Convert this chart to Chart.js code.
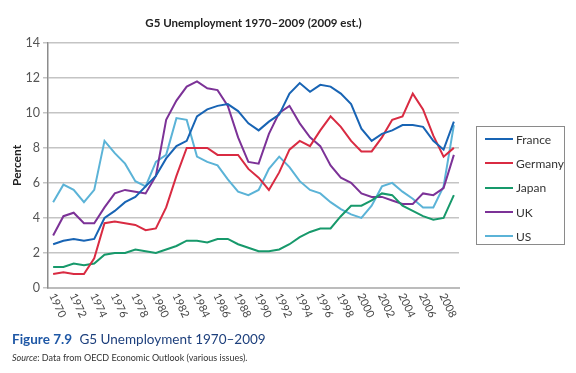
<!DOCTYPE html>
<html>
<head>
<meta charset="utf-8">
<script src="https://cdn.jsdelivr.net/npm/chart.js"></script>
<style>
    body { margin: 0; background: #fff; }
    #wrap { position: relative; width: 576px; height: 373px; font-family: Lato, "Open Sans", sans-serif; }
    #chart { position: absolute; left: 0; top: 0; }
    #legend {
        position: absolute; left: 476px; top: 126px; width: 89px; height: 119px;
        border: 1px solid #8a8a8a; box-sizing: border-box; padding-top: 0px;
    }
    .item { height: 24.3px; display: flex; align-items: center; font-size: 12px; color: #333; }
    .item span { display: inline-block; width: 28px; height: 2px; margin: 0 3px 0 8px; }
    #caption { position: absolute; left: 12px; top: 331px; font-size: 13.5px; color: #1d3f7c; }
    #caption b { color: #1f58a6; font-weight: 700; margin-right: 4px; }
    #source { position: absolute; left: 12px; top: 352px; font-size: 9px; color: #333; }
</style>
</head>
<body>
<div id="wrap">
    <canvas id="chart" width="576" height="373"></canvas>
    <div id="legend"></div>
    <div id="caption"><b>Figure 7.9</b> G5 Unemployment 1970–2009</div>
    <div id="source"><i>Source</i>: Data from OECD Economic Outlook (various issues).</div>
</div>
<script>
// Datos: desempleo (%) 1970-2009
const years = [];
for (let y = 1970; y <= 2009; y++) years.push(String(y));

const seriesNames = ['France', 'Germany', 'Japan', 'UK', 'US'];
const seriesColors = ['#1864b4', '#d92b42', '#17996b', '#7c3297', '#5bb3d7'];

const france = [2.5, 2.7, 2.8, 2.7, 2.8, 4.0, 4.4, 4.9, 5.2, 5.8,
                6.4, 7.4, 8.1, 8.4, 9.8, 10.2, 10.4, 10.5, 10.1, 9.4,
                9.0, 9.5, 9.9, 11.1, 11.7, 11.2, 11.6, 11.5, 11.1, 10.5,
                9.1, 8.4, 8.8, 9.0, 9.3, 9.3, 9.2, 8.4, 7.9, 9.5];
const germany = [0.8, 0.9, 0.8, 0.8, 1.7, 3.7, 3.8, 3.7, 3.6, 3.3,
                 3.4, 4.6, 6.4, 8.0, 8.0, 8.0, 7.6, 7.6, 7.6, 6.8,
                 6.3, 5.6, 6.6, 7.9, 8.4, 8.1, 9.0, 9.8, 9.2, 8.4,
                 7.8, 7.8, 8.6, 9.6, 9.8, 11.1, 10.2, 8.7, 7.5, 8.0];
const japan = [1.2, 1.2, 1.4, 1.3, 1.4, 1.9, 2.0, 2.0, 2.2, 2.1,
               2.0, 2.2, 2.4, 2.7, 2.7, 2.6, 2.8, 2.8, 2.5, 2.3,
               2.1, 2.1, 2.2, 2.5, 2.9, 3.2, 3.4, 3.4, 4.1, 4.7,
               4.7, 5.0, 5.4, 5.3, 4.7, 4.4, 4.1, 3.9, 4.0, 5.3];
const uk = [3.0, 4.1, 4.3, 3.7, 3.7, 4.6, 5.4, 5.6, 5.5, 5.4,
            6.4, 9.6, 10.7, 11.5, 11.8, 11.4, 11.3, 10.4, 8.6, 7.2,
            7.1, 8.8, 10.0, 10.4, 9.4, 8.6, 8.1, 7.0, 6.3, 6.0,
            5.4, 5.2, 5.2, 5.0, 4.8, 4.8, 5.4, 5.3, 5.7, 7.6];
const us = [4.9, 5.9, 5.6, 4.9, 5.6, 8.4, 7.7, 7.1, 6.1, 5.8,
            7.2, 7.6, 9.7, 9.6, 7.5, 7.2, 7.0, 6.2, 5.5, 5.3,
            5.6, 6.8, 7.5, 6.9, 6.1, 5.6, 5.4, 4.9, 4.5, 4.2,
            4.0, 4.7, 5.8, 6.0, 5.5, 5.1, 4.6, 4.6, 5.8, 9.3];
const seriesValues = [france, germany, japan, uk, us];

const FONT = 'Lato, "Open Sans", sans-serif';

// Etiquetas del eje X giradas en sentido horario
const rotatedLabels = {
    id: 'rotatedLabels',
    afterDraw(chart) {
        const ctx = chart.ctx;
        const xs = chart.scales.x;
        ctx.save();
        ctx.font = '11px ' + FONT;
        ctx.fillStyle = '#444';
        ctx.textAlign = 'left';
        ctx.textBaseline = 'middle';
        years.forEach((yr, i) => {
            if (Number(yr) % 2 !== 0) return;
            const x = xs.getPixelForTick(i);
            ctx.save();
            ctx.translate(x - 1, xs.top + 6);
            ctx.rotate(65 * Math.PI / 180);
            ctx.fillText(yr, 0, 0);
            ctx.restore();
        });
        ctx.restore();
    }
};

new Chart(document.getElementById('chart'), {
    type: 'line',
    data: {
        labels: years,
        datasets: seriesNames.map((name, i) => ({
            label: name,
            data: seriesValues[i],
            borderColor: seriesColors[i],
            backgroundColor: seriesColors[i],
            borderWidth: 2,
            pointRadius: 0,
            tension: 0,
            fill: false
        }))
    },
    options: {
        responsive: false,
        animation: false,
        layout: { padding: { right: 117, left: 0, bottom: 0 } },
        plugins: {
            legend: { display: false },
            tooltip: { enabled: false },
            title: {
                display: true,
                text: 'G5 Unemployment 1970–2009 (2009 est.)',
                fullSize: false,
                color: '#222',
                font: { family: FONT, size: 11.5, weight: 'bold' },
                padding: { top: 16, bottom: 13 }
            }
        },
        scales: {
            x: {
                type: 'category',
                offset: true,
                grid: { display: false },
                border: { display: true, color: '#bcbcbc', width: 2 },
                ticks: { display: false },
                afterFit: s => { s.height = 85; }
            },
            y: {
                min: 0,
                max: 14,
                ticks: {
                    stepSize: 2,
                    color: '#555',
                    padding: 3,
                    font: { family: FONT, size: 12.5 }
                },
                grid: { color: '#c4c4c4', lineWidth: 1.5, tickLength: 5 },
                border: { display: true, color: '#8c8c8c', width: 1.5 },
                title: {
                    display: true,
                    text: 'Percent',
                    color: '#222',
                    font: { family: FONT, size: 12, weight: 'bold' },
                    padding: { top: 10, bottom: 0 }
                },
                afterFit: s => { s.width = 48; }
            }
        }
    },
    plugins: [rotatedLabels]
});

// Leyenda con borde
const legend = document.getElementById('legend');
seriesNames.forEach((name, i) => {
    const row = document.createElement('div');
    row.className = 'item';
    row.innerHTML = `<span style="background:${seriesColors[i]}"></span>${name}`;
    legend.appendChild(row);
});
</script>
</body>
</html>
